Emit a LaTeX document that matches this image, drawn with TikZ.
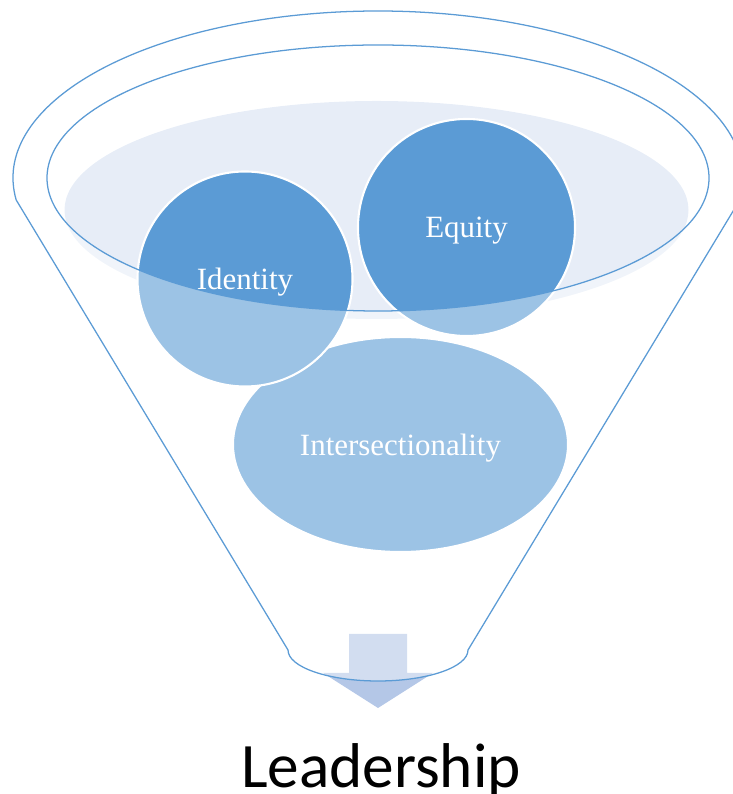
\documentclass[tikz,border=0pt]{standalone}
\usepackage{fontspec}
\setmainfont{Liberation Serif}
\newfontfamily\calibrifont{Carlito}
\usetikzlibrary{shapes.geometric}
\definecolor{accent}{HTML}{5B9BD5}
\definecolor{pale}{HTML}{E7EDF7}
\definecolor{arrowblue}{HTML}{B4C7E7}
\tikzset{
  bubble/.style={circle, fill=accent, draw=white, line width=1.5pt, text=white,
    inner sep=0pt, text depth=0pt, font=\fontsize{22}{26}\selectfont},
  rim/.style={draw=accent, line width=0.9pt},
}
\begin{document}
\begin{tikzpicture}[x=0.025cm,y=0.025cm]
    \useasboundingbox (0,0) rectangle (732,794);
    % bowl
    \fill[pale] (376.5,584) ellipse (312 and 109);
    \node[bubble, ellipse, minimum width=8.375cm, minimum height=5.375cm] (inter) at (400.5,349.5) {Intersectionality};
    \node[bubble, minimum size=5.375cm] (identity) at (245,515) {Identity};
    \node[bubble, minimum size=5.425cm] (equity) at (466.5,566.5) {Equity};
    % arrow out of the spout
    \fill[arrowblue] (349,160) -- (407,160) -- (407,121) -- (433,121)
                     -- (378,86) -- (323,121) -- (349,121) -- cycle;
    % front of the funnel
    \fill[white, fill opacity=0.4, even odd rule]
        (16.2,594) arc[start angle=187.57, end angle=-7.57, x radius=365, y radius=167]
        -- (468,144) arc[start angle=0, end angle=-180, x radius=90, y radius=31] -- cycle
        (378,616) ellipse (331 and 133);
    \draw[rim] (16.2,594) arc[start angle=187.57, end angle=-7.57, x radius=365, y radius=167]
        -- (468,144) arc[start angle=0, end angle=-180, x radius=90, y radius=31] -- cycle;
    \draw[rim] (378,616) ellipse (331 and 133);
    \node[font=\calibrifont\fontsize{45}{54}\selectfont, anchor=base] (leadership) at (381,7) {Leadership};
\end{tikzpicture}
\end{document}
